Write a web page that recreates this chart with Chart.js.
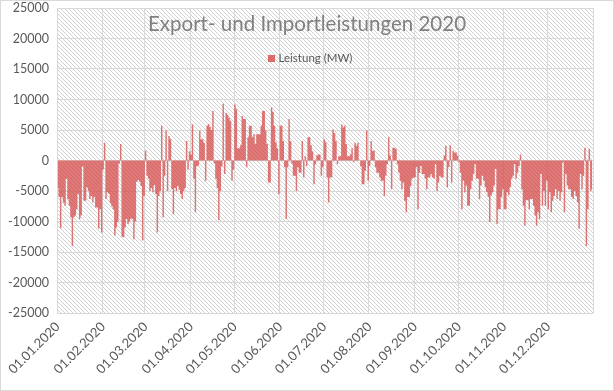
<!DOCTYPE html>
<html lang="de">
<head>
<meta charset="utf-8">
<title>Export- und Importleistungen 2020</title>
<script src="https://cdn.jsdelivr.net/npm/chart.js@4.4.1/dist/chart.umd.min.js"></script>
<style>
    html, body { margin: 0; padding: 0; background: #fff; }
    #wrap {
        position: relative;
        width: 614px;
        height: 391px;
        box-sizing: border-box;
        border: 1px solid #d9d9d9;
        font-family: Lato, "Open Sans", sans-serif;
    }
    #chart { display: block; }
    #titel {
        position: absolute;
        left: 0; top: 9px; width: 612px;
        text-align: center;
        font-size: 20.5px; line-height: 26px;
        color: #808080;
    }
    #legende {
        position: absolute;
        left: 3px; top: 50px; width: 612px;
        text-align: center;
        font-size: 11.5px; line-height: 14px;
        color: #595959;
    }
    #legende .box {
        display: inline-block;
        width: 7px; height: 7px;
        margin-right: 4px;
        background: rgb(220, 108, 108);
    }
</style>
</head>
<body>
<div id="wrap">
    <canvas id="chart" width="612" height="389"></canvas>
    <div id="titel">Export- und Importleistungen 2020</div>
    <div id="legende"><span class="box"></span>Leistung (MW)</div>
</div>
<script>
// Monatsbeschriftung der x-Achse
const monatsLabels = ["01.01.2020", "01.02.2020", "01.03.2020", "01.04.2020", "01.05.2020", "01.06.2020",
                      "01.07.2020", "01.08.2020", "01.09.2020", "01.10.2020", "01.11.2020", "01.12.2020"];
const monatsTage = [31, 29, 31, 30, 31, 30, 31, 31, 30, 31, 30, 31];
const yTicks = [-25000, -20000, -15000, -10000, -5000, 0, 5000, 10000, 15000, 20000, 25000];

// Tageswerte in MW
const jan = [-4500, -6000, -11100, -6000, -6900, -7400, -3000, -6300, -7400, -9300,
             -14000, -9300, -9000, -8000, -5500, -9600, -9000, -1000, -6600, -6600,
             -4400, -5000, -6300, -5800, -6900, -6000, -7700, -7700, -11200, -8000, -11800];
const feb = [-1500, 2900, -6300, -5200, -5500, -7000, -7500, -8000, -12300, -11000,
             -10100, -500, 2700, -12500, -12600, -11000, -9600, -10400, -10000, -9500,
             -9600, -12900, -10000, -3500, -3200, -3500, -4200, -13100, -5800];
const mar = [1600, -2500, -3000, -5000, -4500, -5200, -4000, -5500, -11800, -5800,
             -5000, 5700, -9300, -2500, 4900, -5000, 4000, 3500, -4700, -8800,
             -4500, -5000, -4200, -4800, -5500, -6300, -5000, -4500, 3200, -1500, 1500];
const apr = [1000, 5900, -3000, -8500, -1000, -800, 4900, 3500, 3500, 2900,
             -3300, 5700, 6000, 5500, 5000, 8100, -500, -3000, -4500, -9800,
             -5000, -1000, 9300, -2200, 7800, 7500, 7000, 6500, -3300, -1500];
const mai = [9200, 8400, 2000, 2000, 2500, 7300, 6800, 6800, -1100, 3800,
             5700, 5700, 3800, 4300, 2700, 4300, 4300, 4300, 5700, 8100,
             8100, 4900, 2700, -3600, -3600, 8700, 8000, 5700, 3000, 2000, -5500];
const jun = [5700, 5700, 3200, -1100, -9600, -1100, 6800, 3200, -500, -2500,
             -2500, -5000, -1100, -2000, -2000, 3200, -2800, 700, -900, 3800,
             3800, 2500, 1500, -3900, -600, 800, 1000, 1000, -2500, -1100];
const jul = [3500, 3000, -2800, -6900, -2800, -2800, 5100, 4500, 3200, -600,
             700, 700, 5900, 5400, 5700, 2700, 700, 700, 1000, 2000,
             -300, 2900, 2400, 2900, 0, -1000, -3900, -3900, -1700, 4900, -3300];
const aug = [-900, 3200, 1600, 1600, -1100, -2000, -2000, -2800, -3300, -3300,
             -5800, -2500, -600, 3800, 800, -4700, 2100, 2100, 1900, -600,
             -2000, -3300, -4700, -3600, -6600, -8500, -6000, -6000, -4200, -3000, -2800];
const sep = [-2800, -1100, -8000, -2000, -900, -2200, -2200, -3000, -4700, -2800,
             -2800, -2200, -2800, -3000, -600, -5000, -3600, -2500, -2800, -2800,
             800, 2400, -4400, -1100, 2500, -3600, 1600, 1300, 1300, 800];
const okt = [-300, -2000, -8000, -3300, -5200, -4100, -7400, -7400, -4700, -3300,
             -2200, -600, -3000, -3000, -6300, -4100, -2500, -3300, -4400, -5200,
             -6000, -10100, -5700, -5200, -4100, -1400, -10400, -8000, -8000, -6000, -4700];
const nov = [-8000, -8000, -5200, -5700, -4400, -3000, -2500, -600, -3000, -2000,
             -900, 1000, -4700, -7400, -10700, -6500, -6500, -8000, -6300, -6300,
             -7400, -9000, -10700, -8500, -9600, -2200, -7400, -5000, -7400, -3300];
const dez = [-8000, -5200, -8500, -6600, -5800, -4700, -6300, -5000, -6600, -5200,
             -300, -8500, -2200, -4100, -4700, -4700, -6000, -6300, -5000, -5800,
             -6900, -11200, -2200, -4700, -2500, 2100, -14000, -8000, 1900, -5000, -4700];

const leistung = [...jan, ...feb, ...mar, ...apr, ...mai, ...jun, ...jul, ...aug, ...sep, ...okt, ...nov, ...dez];

// Kategorien: jeder Tag des Jahres
const tage = [];
const monatsStart = [];
monatsTage.forEach((anzahl, m) => {
    monatsStart.push(tage.length);
    for (let d = 1; d <= anzahl; d++) {
        tage.push(String(d).padStart(2, '0') + '.' + String(m + 1).padStart(2, '0') + '.2020');
    }
});

// Schraffierter Hintergrund der Zeichenfläche
const schraffur = {
    id: 'schraffur',
    beforeDraw(chart) {
        const { ctx, chartArea } = chart;
        const muster = document.createElement('canvas');
        muster.width = 4;
        muster.height = 4;
        const mctx = muster.getContext('2d');
        const img = mctx.createImageData(4, 4);
        for (let y = 0; y < 4; y++) {
            for (let x = 0; x < 4; x++) {
                const i = (y * 4 + x) * 4;
                const v = (x === y) ? 208 : 255;
                img.data[i] = v; img.data[i + 1] = v; img.data[i + 2] = v; img.data[i + 3] = 255;
            }
        }
        mctx.putImageData(img, 0, 0);
        ctx.save();
        ctx.fillStyle = ctx.createPattern(muster, 'repeat');
        ctx.fillRect(chartArea.left, chartArea.top, chartArea.right - chartArea.left, chartArea.bottom - chartArea.top);
        ctx.restore();
    }
};

const zeigeLinie = (c) => c.tick === undefined || monatsStart.includes(c.index);

const ctx = document.getElementById('chart').getContext('2d');
new Chart(ctx, {
    type: 'line',
    data: {
        labels: tage,
        datasets: [{
            label: 'Leistung (MW)',
            data: leistung,
            stepped: 'middle',
            fill: 'origin',
            backgroundColor: 'rgba(212, 68, 68, 0.72)',
            borderWidth: 0,
            pointRadius: 0,
        }]
    },
    options: {
        responsive: false,
        animation: false,
        layout: { padding: { top: 7, right: 20, left: 0, bottom: 0 } },
        plugins: {
            legend: { display: false },
            title: { display: false },
            tooltip: { enabled: false }
        },
        scales: {
            x: {
                offset: true,
                border: { display: false },
                grid: {
                    offset: true,
                    drawTicks: false,
                    color: (c) => zeigeLinie(c) ? '#d9d9d9' : 'rgba(0,0,0,0)',
                    lineWidth: (c) => zeigeLinie(c) ? 1 : 0,
                },
                ticks: {
                    autoSkip: false,
                    maxRotation: 45,
                    minRotation: 45,
                    padding: 6,
                    color: '#595959',
                    font: { family: 'Lato', size: 13 },
                    callback: (value, index) => {
                        const m = monatsStart.indexOf(index);
                        return m >= 0 ? monatsLabels[m] : '';
                    }
                },
                afterFit: (s) => { s.height = 77; s.paddingTop = 0; s.paddingBottom = 0; }
            },
            y: {
                min: yTicks[0],
                max: yTicks[yTicks.length - 1],
                border: { display: false },
                grid: { color: '#d9d9d9', drawTicks: false },
                afterBuildTicks: (s) => { s.ticks = yTicks.map(v => ({ value: v })); },
                ticks: {
                    padding: 8,
                    color: '#595959',
                    font: { family: 'Lato', size: 12.5 },
                    callback: (value) => String(value)
                },
                afterFit: (s) => { s.width = 56; s.paddingTop = 0; s.paddingBottom = 0; }
            }
        }
    },
    plugins: [schraffur]
});
</script>
</body>
</html>
